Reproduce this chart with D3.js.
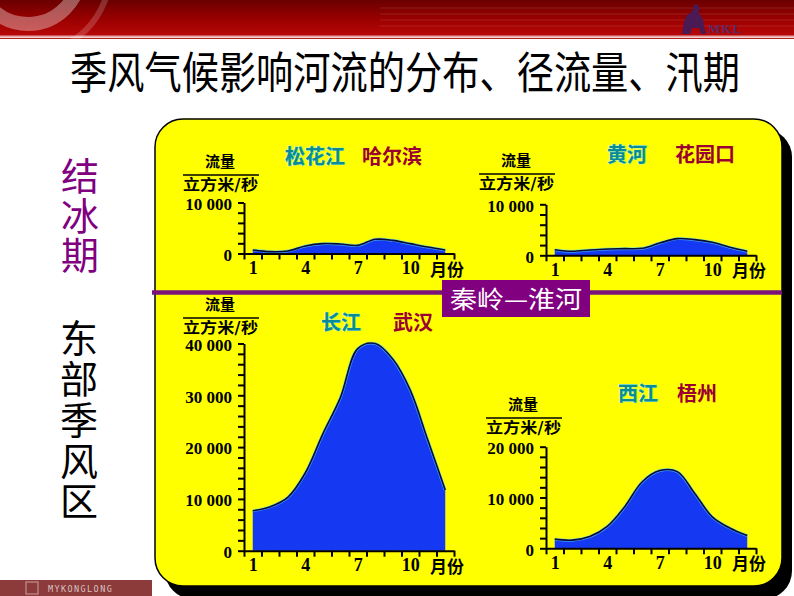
<!DOCTYPE html>
<html><head><meta charset="utf-8">
<script src="https://cdn.jsdelivr.net/npm/d3@7"></script>
<style>html,body{margin:0;padding:0;background:#fff;overflow:hidden}</style>
</head><body>
<svg id="c" width="794" height="596"></svg>
<script>
// ---------- data ----------
const months = [1,2,3,4,5,6,7,8,9,10,11,12];
const monthLabelValues = [1,4,7,10];
const monthUnit = "月份";
const songhuajiang = [700,360,490,1470,1930,1860,1600,2780,2580,1930,1270,690];
const huanghe = [1100,780,1050,1240,1300,1370,2400,3270,3070,2550,1570,780];
const changjiang = [7700,8500,10300,15000,22500,29500,39000,40000,37000,31000,21400,11700];
const xijiang = [1800,1600,2300,4300,8200,13100,15300,15100,10800,6200,4000,2500];
const ticksSmall = [0,10000];
const ticksSmallLabels = ["0","10 000"];
const ticksLarge = [0,10000,20000,30000,40000];
const ticksLargeLabels = ["0","10 000","20 000","30 000","40 000"];
const ticksMid = [0,10000,20000];
const ticksMidLabels = ["0","10 000","20 000"];
const minorStep = 2000;
const unitTop = "流量", unitBottom = "立方米/秒";
const title = "季风气候影响河流的分布、径流量、汛期";
const sideTop = "结冰期";
const sideBottom = "东部季风区";
const divider = "秦岭—淮河";

const svg = d3.select("#c");
const CJK = "'Noto Sans CJK SC', 'Noto Sans', sans-serif";
const SERIF = "'Liberation Serif', 'DejaVu Serif', serif";

// ---------- banner ----------
const defs = svg.append("defs");
const bg = defs.append("linearGradient").attr("id","ban").attr("x1",0).attr("y1",0).attr("x2",0).attr("y2",1);
bg.append("stop").attr("offset","0%").attr("stop-color","#6a0000");
bg.append("stop").attr("offset","55%").attr("stop-color","#9c0000");
bg.append("stop").attr("offset","100%").attr("stop-color","#b80808");
svg.append("rect").attr("x",0).attr("y",0).attr("width",794).attr("height",36).attr("fill","url(#ban)");
[8,14,20,26].forEach(yy=>svg.append("line").attr("x1",380).attr("x2",794).attr("y1",yy).attr("y2",yy)
  .attr("stroke","#ffffff").attr("stroke-opacity",0.08).attr("stroke-width",1.5));
svg.append("line").attr("x1",0).attr("x2",794).attr("y1",36.5).attr("y2",36.5).attr("stroke","#e6a3a3").attr("stroke-width",2);
svg.append("line").attr("x1",0).attr("x2",794).attr("y1",38.5).attr("y2",38.5).attr("stroke","#b02020").attr("stroke-width",1);
const arcG = svg.append("g");
arcG.append("circle").attr("cx",28).attr("cy",-28).attr("r",52).attr("fill","none").attr("stroke","#ffffff").attr("stroke-opacity",0.35).attr("stroke-width",14);
arcG.append("circle").attr("cx",28).attr("cy",-28).attr("r",82).attr("fill","none").attr("stroke","#ffffff").attr("stroke-opacity",0.18).attr("stroke-width",6);
// logo
svg.append("path").attr("d","M682,34 L684,22 Q686,14 692,12 L694,5 Q698,3 699,7 L699,14 Q704,18 704,26 L706,34 L701,34 L699,28 L692,28 L690,34 Z")
  .attr("fill","#4a1a55");
svg.append("text").attr("x",708).attr("y",33).attr("font-family",SERIF).attr("font-weight","bold").attr("font-size",13)
  .attr("fill","#5a2a66").attr("letter-spacing",1).text("MKL");

// ---------- title ----------
svg.append("text").attr("transform","translate(405,89) scale(1,1.18)").attr("text-anchor","middle")
  .attr("font-family",CJK).attr("font-size",38)
  .attr("textLength",670).attr("lengthAdjust","spacingAndGlyphs").attr("fill","#000").text(title);

// ---------- side labels (vertical text) ----------
svg.append("text").attr("x",80).attr("y",157).style("writing-mode","vertical-rl")
  .attr("font-family",CJK).attr("font-size",38).attr("letter-spacing",1.5).attr("fill","#800080").text(sideTop);
svg.append("text").attr("x",79).attr("y",319).style("writing-mode","vertical-rl")
  .attr("font-family",CJK).attr("font-size",38).attr("letter-spacing",2.7).attr("fill","#000").text(sideBottom);

// ---------- footer ----------
svg.append("rect").attr("x",0).attr("y",580).attr("width",152).attr("height",16).attr("fill","#8c3a3a");
svg.append("rect").attr("x",26).attr("y",582).attr("width",12).attr("height",12).attr("fill","none").attr("stroke","#c9a0a0").attr("stroke-width",1);
svg.append("text").attr("x",48).attr("y",592).attr("font-family","'DejaVu Sans Mono', monospace").attr("font-size",8.5)
  .attr("letter-spacing",1.4).attr("fill","#d9c2c2").text("MYKONGLONG");

// ---------- panel ----------
svg.append("rect").attr("x",165).attr("y",129).attr("width",627).attr("height",470).attr("rx",28).attr("fill","#000");
svg.append("rect").attr("x",155).attr("y",119).attr("width",627).attr("height",467).attr("rx",28)
  .attr("fill","#ffff00").attr("stroke","#000").attr("stroke-width",1.5);

// ---------- charts ----------
function drawChart(cfg){
  const g = svg.append("g");
  const xm = d3.scaleLinear().domain([0.5,12.5]).range([cfg.x0, cfg.x0+210]);
  const y = d3.scaleLinear().domain([0,cfg.max]).range([cfg.y0, cfg.y0 - cfg.max/1000*cfg.px]);
  const data = months.map((m,i)=>({m, v: cfg.values[i]}));
  const area = d3.area().x(d=>xm(d.m)).y0(y(0)).y1(d=>y(d.v)).curve(d3.curveCatmullRom.alpha(0.5));
  const line = d3.line().x(d=>xm(d.m)).y(d=>y(d.v)).curve(d3.curveCatmullRom.alpha(0.5));
  g.append("path").datum(data).attr("d",area).attr("fill","#1538f2");
  g.append("path").datum(data).attr("d",line).attr("fill","none").attr("stroke","#55ddff").attr("stroke-width",3).attr("stroke-opacity",0.6);
  g.append("path").datum(data).attr("d",line).attr("fill","none").attr("stroke","#0a0a38").attr("stroke-width",1.6);

  // x axis: month-boundary ticks
  const xa = g.append("g").attr("transform",`translate(0,${cfg.y0})`)
    .call(d3.axisBottom(xm).tickValues(d3.range(0.5,13,1)).tickFormat("").tickSize(6).tickSizeOuter(0));
  xa.selectAll("path,line").attr("stroke","#000").attr("stroke-width",2);
  const xl = g.append("g").attr("transform",`translate(0,${cfg.y0})`)
    .call(d3.axisBottom(xm).tickValues(monthLabelValues).tickFormat(d=>d).tickSize(0).tickPadding(8));
  xl.select(".domain").remove();
  xl.selectAll("text").attr("font-family",SERIF).attr("font-weight","bold").attr("font-size",18).attr("fill","#000");
  g.append("text").attr("x",cfg.x0+186).attr("y",cfg.y0+16).attr("dy","0.36em").attr("font-family",CJK)
    .attr("font-weight","bold").attr("font-size",17).attr("fill","#000").text(monthUnit);

  // y axis
  const ya = g.append("g").attr("transform",`translate(${cfg.x0},0)`)
    .call(d3.axisLeft(y).tickValues(d3.range(0,cfg.max+1,minorStep)).tickFormat("").tickSize(6).tickSizeOuter(0));
  ya.selectAll("path,line").attr("stroke","#000").attr("stroke-width",2);
  const yl = g.append("g").attr("transform",`translate(${cfg.x0},0)`)
    .call(d3.axisLeft(y).tickValues(cfg.ticks).tickFormat((d,i)=>cfg.tickLabels[i]).tickSize(0).tickPadding(12));
  yl.select(".domain").remove();
  yl.selectAll("text").attr("font-family",SERIF).attr("font-weight","bold").attr("font-size",17).attr("fill","#000").attr("dy","0.4em");

  // unit label
  g.append("text").attr("x",cfg.ux+37).attr("y",cfg.uy-8).attr("text-anchor","middle").attr("font-family",CJK)
    .attr("font-weight","bold").attr("font-size",15).attr("fill","#000").text(unitTop);
  g.append("line").attr("x1",cfg.ux).attr("x2",cfg.ux+76).attr("y1",cfg.uy).attr("y2",cfg.uy).attr("stroke","#000").attr("stroke-width",1.3);
  g.append("text").attr("x",cfg.ux).attr("y",cfg.uy+15).attr("font-family",CJK).attr("textLength",75).attr("lengthAdjust","spacingAndGlyphs")
    .attr("font-weight","bold").attr("font-size",14.5).attr("fill","#000").text(unitBottom);

  // title
  g.append("text").attr("x",cfg.tx1).attr("y",cfg.ty).attr("font-family",CJK).attr("font-weight","bold").attr("font-size",20)
    .attr("fill","#0a8a96").attr("stroke","#7ff5ff").attr("stroke-width",0.7).attr("paint-order","stroke").text(cfg.river);
  g.append("text").attr("x",cfg.tx2).attr("y",cfg.ty).attr("font-family",CJK).attr("font-weight","bold").attr("font-size",20)
    .attr("fill","#9a0030").text(cfg.city);
}

drawChart({x0:244, y0:253.5, px:5.1, max:10000, values:songhuajiang, ticks:ticksSmall, tickLabels:ticksSmallLabels,
  ux:183, uy:175, river:"松花江", city:"哈尔滨", tx1:285, tx2:362, ty:164});
drawChart({x0:546, y0:255.3, px:5.1, max:10000, values:huanghe, ticks:ticksSmall, tickLabels:ticksSmallLabels,
  ux:479, uy:174, river:"黄河", city:"花园口", tx1:607, tx2:675, ty:162});
drawChart({x0:244, y0:550.7, px:5.18, max:40000, values:changjiang, ticks:ticksLarge, tickLabels:ticksLargeLabels,
  ux:183, uy:318, river:"长江", city:"武汉", tx1:321, tx2:393, ty:330});
drawChart({x0:546, y0:548.3, px:5.08, max:20000, values:xijiang, ticks:ticksMid, tickLabels:ticksMidLabels,
  ux:486, uy:418, river:"西江", city:"梧州", tx1:618, tx2:677, ty:401});

// ---------- divider ----------
svg.append("line").attr("x1",152).attr("x2",782).attr("y1",292.5).attr("y2",292.5).attr("stroke","#7a137a").attr("stroke-width",4.5);
svg.append("rect").attr("x",442).attr("y",280).attr("width",148).attr("height",37).attr("fill","#800080");
svg.append("text").attr("x",516).attr("y",299).attr("dy","0.36em").attr("text-anchor","middle").attr("font-family",CJK)
  .attr("font-size",24).attr("textLength",132).attr("lengthAdjust","spacingAndGlyphs").attr("fill","#fff").text(divider);
</script>
</body></html>
